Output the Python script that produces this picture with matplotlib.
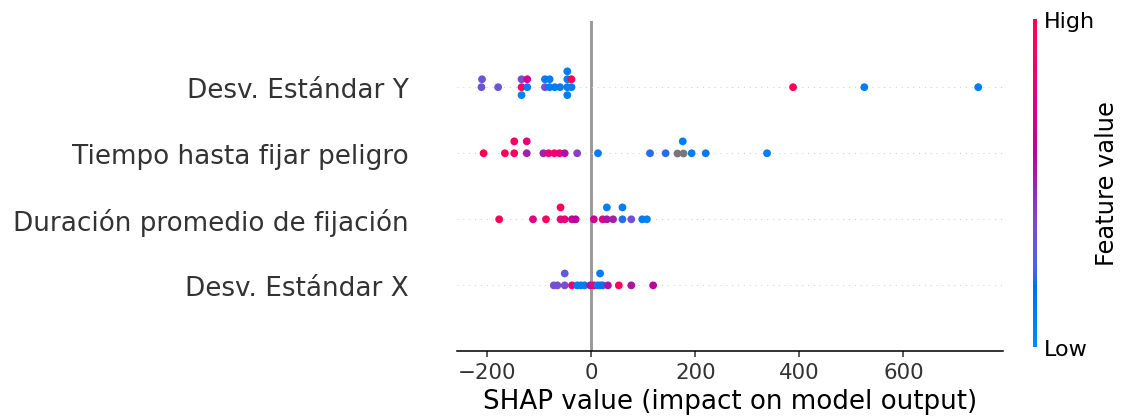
import numpy as np
import matplotlib.pyplot as plt
from matplotlib.colors import ListedColormap

# feature names, bottom row first
features = ["Desv. Estándar X", "Duración promedio de fijación",
            "Tiempo hasta fijar peligro", "Desv. Estándar Y"]

# SHAP values and normalised feature values (0 = low, 1 = high, nan = missing)
shap_desv_x = [-72, -65, -51, -51, -37, -27, -20, -13, -2, 5, 12, 17, 17, 22, 32, 53, 77, 119]
feat_desv_x = [.35, .35, .35, .3, .8, .1, .1, .1, .55, .8, .2, .15, .1, .15, .55, .95, .55, .6]

shap_duracion = [-177, -112, -87, -59, -59, -51, -37, -30, 5, 22, 30, 30, 42, 60, 60, 77, 98, 107]
feat_duracion = [.97, .75, .95, .8, .95, .78, .65, .6, .65, .75, .55, .08, .5, .2, .1, .35, .1, .08]

shap_tiempo = [-207, -166, -148, -148, -124, -124, -92, -82, -71, -61, -51, -27, 13, 113, 143,
               165, 176, 176, 193, 220, 338]
feat_tiempo = [1.0, .95, .95, .9, .5, .8, .5, .8, .85, .8, .55, .4, .1, .2, .2,
               np.nan, np.nan, .1, .1, .12, .1]

shap_desv_y = [-211, -210, -179, -134, -134, -134, -123, -123, -89, -89, -80, -80, -70, -60,
               -46, -46, -46, -46, -38, -38, 388, 525, 744]
feat_desv_y = [.32, .32, .32, .9, .35, .05, .1, .7, .35, .1, .1, .1, .1, .1,
               .1, .1, .1, .1, .1, .95, .95, .1, .1]

rows = [(shap_desv_x, feat_desv_x), (shap_duracion, feat_duracion),
        (shap_tiempo, feat_tiempo), (shap_desv_y, feat_desv_y)]


def lch2rgb(l, c, h):
    a = c * np.cos(h)
    b = c * np.sin(h)
    fy = (l + 16) / 116
    fx = fy + a / 500
    fz = fy - b / 200

    def finv(t):
        return np.where(t > 6 / 29, t ** 3, 3 * (6 / 29) ** 2 * (t - 4 / 29))

    xyz = np.array([0.95047 * finv(fx), finv(fy), 1.08883 * finv(fz)])
    m = np.array([[3.2406, -1.5372, -0.4986],
                  [-0.9689, 1.8758, 0.0415],
                  [0.0557, -0.2040, 1.0570]])
    rgb = m @ xyz
    rgb = np.where(rgb > 0.0031308,
                   1.055 * np.clip(rgb, 0, None) ** (1 / 2.4) - 0.055, 12.92 * rgb)
    return np.clip(rgb, 0, 1).T


# blue -> purple -> red map interpolated in LCH space
n = 100
l_vals = np.r_[np.linspace(54, 40, n // 2), np.linspace(40, 54, n // 2)]
c_vals = np.linspace(70, 90, n)
h_vals = np.linspace(4.6588, 0.35470565 + 2 * np.pi, n)
red_blue = ListedColormap(lch2rgb(l_vals, c_vals, h_vals))


def swarm_offsets(vals, row_height=0.4, nbins=100):
    vals = np.asarray(vals, float)
    quant = np.round(nbins * (vals - vals.min()) / (vals.max() - vals.min() + 1e-8))
    ys = np.zeros(len(vals))
    layer, last_bin = 0, -1
    for i in np.argsort(quant, kind="stable"):
        if quant[i] != last_bin:
            layer = 0
        ys[i] = np.ceil(layer / 2) * ((layer % 2) * 2 - 1)
        layer += 1
        last_bin = quant[i]
    ys *= 0.9 * (row_height / np.max(ys + 1))
    return ys


fig = plt.figure(figsize=(8.0, 3.0), dpi=140.25)
ax = fig.add_axes([0.407, 0.163, 0.487, 0.785])

ax.axvline(0, color="#999999", zorder=-1)

for pos, (sv, fv) in enumerate(rows):
    sv = np.asarray(sv, float)
    fv = np.asarray(fv, float)
    ax.axhline(pos, color="#cccccc", lw=0.5, dashes=(1, 5), zorder=-1)
    ys = pos + swarm_offsets(sv)
    nan = np.isnan(fv)
    ax.scatter(sv[nan], ys[nan], color="#777777", s=16, linewidth=0, zorder=3)
    ax.scatter(sv[~nan], ys[~nan], c=fv[~nan], cmap=red_blue, vmin=0, vmax=1,
               s=16, linewidth=0, zorder=3)

ax.set_ylim(-1, len(features))
ax.set_yticks(range(len(features)))
ax.set_yticklabels(features, fontsize=13.5)
ax.tick_params("y", length=0, pad=24.5)
ax.tick_params(color="#333333", labelcolor="#333333")
ax.tick_params("x", labelsize=11, length=3, pad=2.5)
for side in ["top", "right", "left"]:
    ax.spines[side].set_visible(False)
ax.set_xlabel("SHAP value (impact on model output)", fontsize=13.4, labelpad=3)

# colour bar
cax = fig.add_axes([0.9205, 0.1734, 0.0036, 0.779])
sm = plt.cm.ScalarMappable(cmap=red_blue)
sm.set_array([0, 1])
cb = fig.colorbar(sm, cax=cax, ticks=[0, 1])
cb.set_ticklabels(["Low", "High"])
cb.set_label("Feature value", size=12.4, labelpad=0)
cb.ax.tick_params(labelsize=11.4, length=0)
cb.outline.set_visible(False)

fig.savefig("out.png", dpi=140.25)
